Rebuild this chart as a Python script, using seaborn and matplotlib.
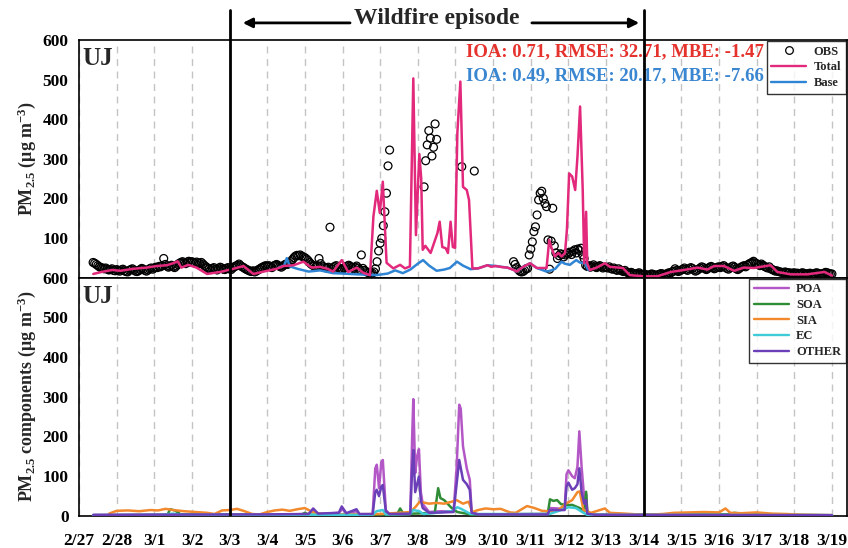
import numpy as np
import pandas as pd
import matplotlib
matplotlib.use('Agg')
import matplotlib.pyplot as plt
from matplotlib.lines import Line2D
import seaborn as sns

nan = np.nan

# x axis: days since 2/27 00:00
day_labels = ['2/27', '2/28', '3/1', '3/2', '3/3', '3/4', '3/5', '3/6', '3/7', '3/8', '3/9',
              '3/10', '3/11', '3/12', '3/13', '3/14', '3/15', '3/16', '3/17', '3/18', '3/19']
episode_start = 4    # 3/3
episode_end = 15     # 3/14

# hourly observations, one line per day starting 2/27 00h
obs = [
    nan, nan, nan, nan, nan, nan, nan, nan, nan, 38, 36, 33, 30, 27, 25, 24, 22, 24, 21, 19, 20, 22, 18, 17,
    20, 18, 16, 19, 21, 17, 15, 14, 18, 20, 22, 19, 16, 15, 17, 20, 23, 21, 18, 16, 19, 22, 24, 21,
    24, 26, 25, 28, 27, 30, 48, 33, 29, 26, 28, 31, 27, 25, 29, 33, 36, 38, 40, 37, 35, 39, 41, 38,
    40, 38, 36, 39, 37, 35, 38, 34, 30, 27, 24, 22, 20, 23, 25, 21, 19, 22, 26, 24, 21, 20, 23, 25,
    22, 20, 24, 27, 29, 31, 34, 30, 27, 25, 22, 20, 18, 16, 15, 17, 14, 16, 19, 21, 24, 26, 28, 30,
    28, 30, 27, 25, 29, 31, 33, 30, 28, 26, 29, 32, 34, 33, 36, 40, 45, 50, 54, 56, 55, 57, 54, 52,
    50, 47, 43, 38, 34, 31, 29, 27, 30, 48, 35, 29, 27, 25, 24, 26, 127, 22, 25, 28, 30, 26, 23, 21,
    20, 24, 27, 29, 31, 28, 25, 22, 26, 29, 24, 20, 57, 23, 18, 15, 13, 12, 10, 11, 14, 22, 40, 67,
    87, 99, 131, 166, 213, 282, 322, nan, nan, nan, nan, nan, nan, nan, nan, nan, nan, nan, nan, nan, nan, nan, nan, nan,
    nan, nan, nan, nan, 229, 295, 335, 371, 352, 307, 329, 388, 349, nan, nan, nan, nan, nan, nan, nan, nan, nan, nan, nan,
    nan, nan, nan, nan, 280, nan, nan, nan, nan, nan, nan, nan, 269, nan, nan, nan, nan, nan, nan, nan, nan, nan, nan, nan,
    nan, nan, nan, nan, nan, nan, nan, nan, nan, nan, nan, nan, nan, 40, 33, 25, 20, 16, 14, 15, 18, 22, 23, 57,
    72, 90, 116, 128, 158, 196, 213, 218, 200, 187, 179, 95, 21, 92, 175, 80, 62, 48, 55, 60, 58, 52, 57, 62,
    60, 64, 58, 66, 70, 62, 72, 68, 74, 57, 48, 31, 28, 30, 26, 29, 32, 27, 25, 28, 30, 27, 24, 26,
    26, 24, 27, 23, 21, 24, 20, 18, 22, 19, 17, 15, 18, 14, 12, 10, 13, 11, 9, 8, 10, 12, 9, 8,
    7, 8, 6, 5, 7, 9, 8, 6, 5, 7, 8, 10, 9, 7, 8, 10, 12, 11, 14, 16, 22, 18, 15, 17,
    19, 21, 24, 20, 18, 22, 25, 23, 19, 16, 18, 21, 24, 27, 25, 22, 20, 23, 26, 28, 25, 22, 24, 26,
    27, 25, 28, 30, 26, 23, 21, 24, 27, 29, 26, 22, 20, 23, 26, 28, 30, 27, 31, 34, 36, 38, 41, 37,
    35, 33, 30, 34, 31, 28, 26, 24, 27, 22, 20, 18, 16, 17, 15, 14, 13, 12, 14, 13, 11, 12, 10, 11,
    12, 10, 11, 9, 10, 12, 11, 9, 8, 10, 11, 9, 8, 10, 12, 11, 9, 8, 10, 11, 13, 12, 10, 9,
    9,
]

# model results as (day, value)
total = [(0.38, 9), (0.6, 14), (0.88, 19), (1.1, 17), (1.44, 22), (1.8, 25), (2.06, 29), (2.33, 31),
         (2.5, 36), (2.62, 41), (2.72, 25), (2.9, 32), (3.12, 25), (3.4, 9), (3.75, 14), (4.1, 22),
         (4.37, 29), (4.63, 9), (5.0, 17), (5.25, 22), (5.43, 29), (5.7, 31), (5.96, 40), (6.18, 25),
         (6.4, 27), (6.6, 22), (6.75, 15), (6.98, 44), (7.15, 14), (7.38, 25), (7.55, 12), (7.73, 6),
         (7.82, 154), (7.91, 219), (7.99, 163), (8.07, 242), (8.17, 37), (8.35, 23), (8.53, 32),
         (8.66, 23), (8.79, 28), (8.88, 503), (8.95, 107), (9.04, 312), (9.09, 250), (9.13, 70),
         (9.2, 80), (9.34, 62), (9.52, 112), (9.58, 141), (9.65, 77), (9.74, 74), (9.8, 62),
         (9.87, 141), (9.93, 77), (9.99, 75), (10.05, 365), (10.13, 495), (10.2, 229), (10.3, 221),
         (10.36, 196), (10.45, 23), (10.6, 23), (10.85, 31), (10.95, 27), (11.07, 29), (11.25, 26),
         (11.38, 25), (11.55, 19), (11.62, 15), (11.8, 27), (11.98, 36), (12.16, 24), (12.42, 24),
         (12.49, 95), (12.55, 75), (12.64, 53), (12.73, 62), (12.82, 53), (12.91, 62), (12.96, 120),
         (13.02, 263), (13.1, 255), (13.18, 221), (13.24, 305), (13.31, 432), (13.38, 221),
         (13.42, 36), (13.47, 166), (13.5, 36), (13.57, 19), (13.75, 25), (13.97, 36), (14.1, 27),
         (14.45, 24), (14.63, 6), (15.0, 3), (15.36, 3), (15.72, 14), (16.07, 19), (16.43, 25),
         (16.69, 20), (16.87, 29), (17.13, 29), (17.4, 17), (17.66, 25), (17.93, 24), (18.37, 31),
         (18.55, 14), (18.9, 8), (19.35, 8), (19.8, 14), (20.0, 5)]

base = [(5.3, 25), (5.45, 30), (5.52, 49), (5.6, 28), (5.8, 22), (6.1, 15), (6.4, 18), (6.75, 11),
        (7.0, 10), (7.4, 8), (7.9, 6), (8.2, 10), (8.4, 18), (8.6, 11), (8.8, 20), (9.0, 35),
        (9.14, 44), (9.3, 30), (9.5, 17), (9.7, 20), (9.85, 24), (10.04, 40), (10.2, 30), (10.4, 21),
        (10.6, 23), (10.85, 31), (11.07, 29), (11.38, 25), (11.55, 19), (11.62, 15), (11.8, 27),
        (11.98, 36), (12.16, 24), (12.42, 15), (12.55, 18), (12.65, 22), (12.82, 40), (12.9, 35),
        (13.04, 32), (13.12, 38), (13.21, 44), (13.3, 38), (13.44, 36), (13.52, 20), (13.57, 19)]

poa = [(0.38, 2), (5.0, 3), (6.1, 5), (6.22, 14), (6.35, 5), (6.9, 8), (7.0, 18), (7.1, 6), (7.37, 12),
       (7.45, 4), (7.8, 4), (7.87, 120), (7.91, 129), (7.97, 70), (8.03, 135), (8.07, 141), (8.15, 15),
       (8.25, 4), (8.8, 5), (8.85, 200), (8.88, 294), (8.93, 108), (8.98, 150), (9.03, 168), (9.08, 60),
       (9.13, 30), (9.3, 10), (9.6, 12), (9.95, 12), (10.03, 120), (10.1, 280), (10.14, 270),
       (10.2, 175), (10.3, 120), (10.38, 91), (10.43, 11), (10.6, 4), (12.45, 5), (12.5, 20),
       (12.9, 18), (12.95, 105), (13.0, 115), (13.1, 100), (13.17, 95), (13.24, 124), (13.29, 213),
       (13.35, 124), (13.4, 66), (13.44, 30), (13.47, 55), (13.5, 8), (13.7, 3), (20.0, 2)]

soa = [(0.38, 2), (2.35, 3), (2.42, 17), (2.55, 14), (2.7, 4), (5.9, 3), (6.0, 8), (6.1, 3),
       (8.45, 4), (8.53, 19), (8.62, 5), (9.45, 8), (9.54, 70), (9.6, 45), (9.7, 40), (9.8, 30),
       (9.9, 20), (10.05, 10), (10.4, 4), (12.45, 5), (12.51, 42), (12.6, 38), (12.7, 40), (12.8, 30),
       (12.95, 27), (13.1, 28), (13.3, 20), (13.42, 12), (13.47, 61), (13.5, 13), (13.6, 3),
       (17.3, 4), (17.4, 8), (17.6, 6), (17.8, 4), (20.0, 2)]

sia = [(0.8, 6), (1.0, 13), (1.3, 14), (1.6, 12), (1.9, 15), (2.1, 14), (2.3, 18), (2.5, 15),
       (2.8, 12), (3.1, 10), (3.4, 8), (3.6, 5), (3.8, 14), (4.0, 15), (4.2, 18), (4.4, 12), (4.6, 5),
       (4.8, 4), (5.0, 10), (5.2, 14), (5.4, 16), (5.6, 13), (5.8, 17), (6.0, 20), (6.2, 10),
       (6.5, 4), (7.0, 4), (8.0, 5), (8.5, 8), (8.8, 10), (8.95, 24), (9.05, 36), (9.3, 31),
       (9.5, 33), (9.7, 31), (9.9, 36), (10.03, 40), (10.2, 31), (10.35, 36), (10.45, 10), (10.6, 15),
       (10.8, 19), (11.0, 17), (11.2, 18), (11.45, 9), (11.6, 8), (11.9, 25), (12.1, 20), (12.3, 13),
       (12.5, 12), (12.73, 15), (12.95, 32), (13.1, 40), (13.24, 60), (13.3, 62), (13.4, 15),
       (13.6, 8), (13.97, 19), (14.1, 8), (14.5, 6), (15.0, 3), (15.5, 5), (15.8, 8), (16.2, 9),
       (16.6, 10), (17.0, 9), (17.17, 19), (17.3, 8), (17.6, 7), (18.0, 9), (18.4, 6), (18.8, 5),
       (19.2, 3), (20.0, 2)]

ec = [(0.38, 2), (2.2, 3), (2.5, 6), (2.7, 3), (7.8, 3), (7.9, 12), (8.07, 15), (8.15, 4), (8.8, 5),
      (8.88, 15), (9.04, 12), (9.15, 5), (9.5, 8), (9.9, 12), (10.05, 22), (10.15, 18), (10.4, 5),
      (12.5, 5), (12.9, 18), (13.0, 22), (13.2, 20), (13.4, 8), (13.5, 3), (20.0, 2)]

other = [(0.38, 3), (5.0, 4), (6.1, 5), (6.22, 19), (6.35, 6), (6.9, 8), (6.98, 24), (7.1, 7),
         (7.37, 17), (7.45, 5), (7.8, 5), (7.87, 60), (7.91, 66), (7.97, 50), (8.03, 74), (8.07, 78),
         (8.15, 12), (8.25, 5), (8.8, 6), (8.85, 120), (8.88, 166), (8.93, 60), (9.03, 99), (9.08, 40),
         (9.13, 20), (9.3, 8), (9.95, 10), (10.03, 80), (10.1, 141), (10.2, 91), (10.3, 80),
         (10.38, 66), (10.43, 8), (10.6, 4), (12.45, 4), (12.5, 15), (12.9, 15), (12.95, 74),
         (13.0, 84), (13.1, 66), (13.17, 70), (13.24, 80), (13.29, 120), (13.35, 60), (13.42, 31),
         (13.47, 40), (13.5, 6), (13.7, 3), (20.0, 2)]

top_colors = {'Total': '#e2297c', 'Base': '#2f84d4'}
comp_colors = {'POA': '#b457c6', 'SOA': '#2e8b36', 'SIA': '#f2892c', 'EC': '#3fcad8', 'OTHER': '#6b3fb8'}


def to_frame(series):
    return pd.concat([pd.DataFrame(v, columns=['day', 'conc']).assign(series=k) for k, v in series.items()],
                     ignore_index=True)


top_df = to_frame({'Base': base, 'Total': total})
comp_df = to_frame({'POA': poa, 'SOA': soa, 'SIA': sia, 'EC': ec, 'OTHER': other})
obs_df = pd.DataFrame({'day': np.arange(len(obs)) / 24, 'conc': obs}).dropna()

sns.set_style('white')
plt.rcParams['font.family'] = ['Liberation Serif', 'DejaVu Serif']
plt.rcParams['font.weight'] = 'bold'
plt.rcParams['axes.labelweight'] = 'bold'
plt.rcParams['mathtext.fontset'] = 'custom'
plt.rcParams['mathtext.rm'] = 'Liberation Serif:bold'
plt.rcParams['mathtext.it'] = 'Liberation Serif:bold'
plt.rcParams['mathtext.bf'] = 'Liberation Serif:bold'

fig = plt.figure(figsize=(8.48, 5.48), dpi=100)
ax1 = fig.add_axes([79 / 848, 270.5 / 548, 768 / 848, 237.5 / 548])
ax2 = fig.add_axes([79 / 848, 32 / 548, 768 / 848, 238.5 / 548])

# top panel: PM2.5 obs vs model
sns.scatterplot(data=obs_df, x='day', y='conc', marker='o', s=32, facecolor='none',
                edgecolor='black', linewidth=0.9, ax=ax1, zorder=2, legend=False)
sns.lineplot(data=top_df, x='day', y='conc', hue='series', hue_order=['Base', 'Total'],
             palette=top_colors, estimator=None, sort=False, lw=1.8, legend=False, ax=ax1, zorder=3)

# bottom panel: components
sns.lineplot(data=comp_df, x='day', y='conc', hue='series',
             hue_order=['POA', 'SOA', 'SIA', 'EC', 'OTHER'], palette=comp_colors,
             estimator=None, sort=False, lw=1.8, legend=False, ax=ax2, zorder=3)

for ax in (ax1, ax2):
    ax.set_xlim(0, 20.4)
    ax.set_ylim(0, 600)
    ax.set_xticks(range(len(day_labels)))
    ax.xaxis.grid(True, linestyle=(0, (5, 4)), color='#c4c4c4', lw=1)
    ax.yaxis.grid(False)
    ax.set_axisbelow(True)
    for sp in ax.spines.values():
        sp.set_color('black')
        sp.set_linewidth(1.2)
    ax.tick_params(direction='out', length=4, width=1, labelsize=12.5, colors='black')
    ax.set_xlabel('')
    ax.text(0.005, 0.97, 'UJ', transform=ax.transAxes, fontsize=18, va='top', ha='left')

ax1.set_yticks(range(100, 601, 100))
ax1.tick_params(axis='x', length=0, labelbottom=False)
ax2.set_yticks(range(0, 601, 100))
ax2.set_xticklabels(day_labels)
ax2.tick_params(axis='x', pad=8)

ax1.set_ylabel('PM$_{2.5}$ (μg m$^{-3}$)', fontsize=13, labelpad=3)
ax2.set_ylabel('PM$_{2.5}$ components (μg m$^{-3}$)', fontsize=13, labelpad=3)
fig.align_ylabels([ax1, ax2])

# episode markers
for x in (episode_start, episode_end):
    ax1.axvline(x, ymin=0, ymax=1.126, color='black', lw=2, clip_on=False, zorder=5)
    ax2.axvline(x, color='black', lw=2, zorder=5)

xform = ax1.get_xaxis_transform()
ax1.text(9.5, 1.09, 'Wildfire episode', transform=xform, ha='center', va='center', fontsize=17)
arrow = dict(arrowstyle='-|>', color='black', lw=2, mutation_scale=14, shrinkA=0, shrinkB=0)
ax1.annotate('', xy=(4.35, 1.072), xytext=(7.2, 1.072), xycoords=xform, textcoords=xform,
             arrowprops=arrow, annotation_clip=False)
ax1.annotate('', xy=(14.88, 1.072), xytext=(12.03, 1.072), xycoords=xform, textcoords=xform,
             arrowprops=arrow, annotation_clip=False)

# statistics
ax1.text(0.892, 0.949, 'IOA: 0.71, RMSE: 32.71, MBE: -1.47', transform=ax1.transAxes,
         ha='right', va='center', fontsize=13.5, color='#e5322d')
ax1.text(0.892, 0.848, 'IOA: 0.49, RMSE: 20.17, MBE: -7.66', transform=ax1.transAxes,
         ha='right', va='center', fontsize=13.5, color='#3a86d0')

# legends
top_handles = [Line2D([], [], ls='none', marker='o', mfc='none', mec='black', ms=5.5, mew=0.9),
               Line2D([], [], color=top_colors['Total'], lw=1.7),
               Line2D([], [], color=top_colors['Base'], lw=1.7)]
leg1 = ax1.legend(top_handles, ['OBS', 'Total', 'Base'], loc='upper right', fontsize=9,
                  frameon=True, fancybox=False, edgecolor='black', borderaxespad=0.1,
                  handlelength=2.8, labelspacing=0.3, borderpad=0.35, handletextpad=0.6)
leg1.get_frame().set_linewidth(1)

comp_handles = [Line2D([], [], color=comp_colors[k], lw=1.7) for k in comp_colors]
leg2 = ax2.legend(comp_handles, list(comp_colors), loc='upper right', fontsize=9,
                  frameon=True, fancybox=False, edgecolor='black', borderaxespad=0.1,
                  handlelength=2.8, labelspacing=0.3, borderpad=0.35, handletextpad=0.6)
leg2.get_frame().set_linewidth(1)

fig.savefig('out.png', dpi=100)
